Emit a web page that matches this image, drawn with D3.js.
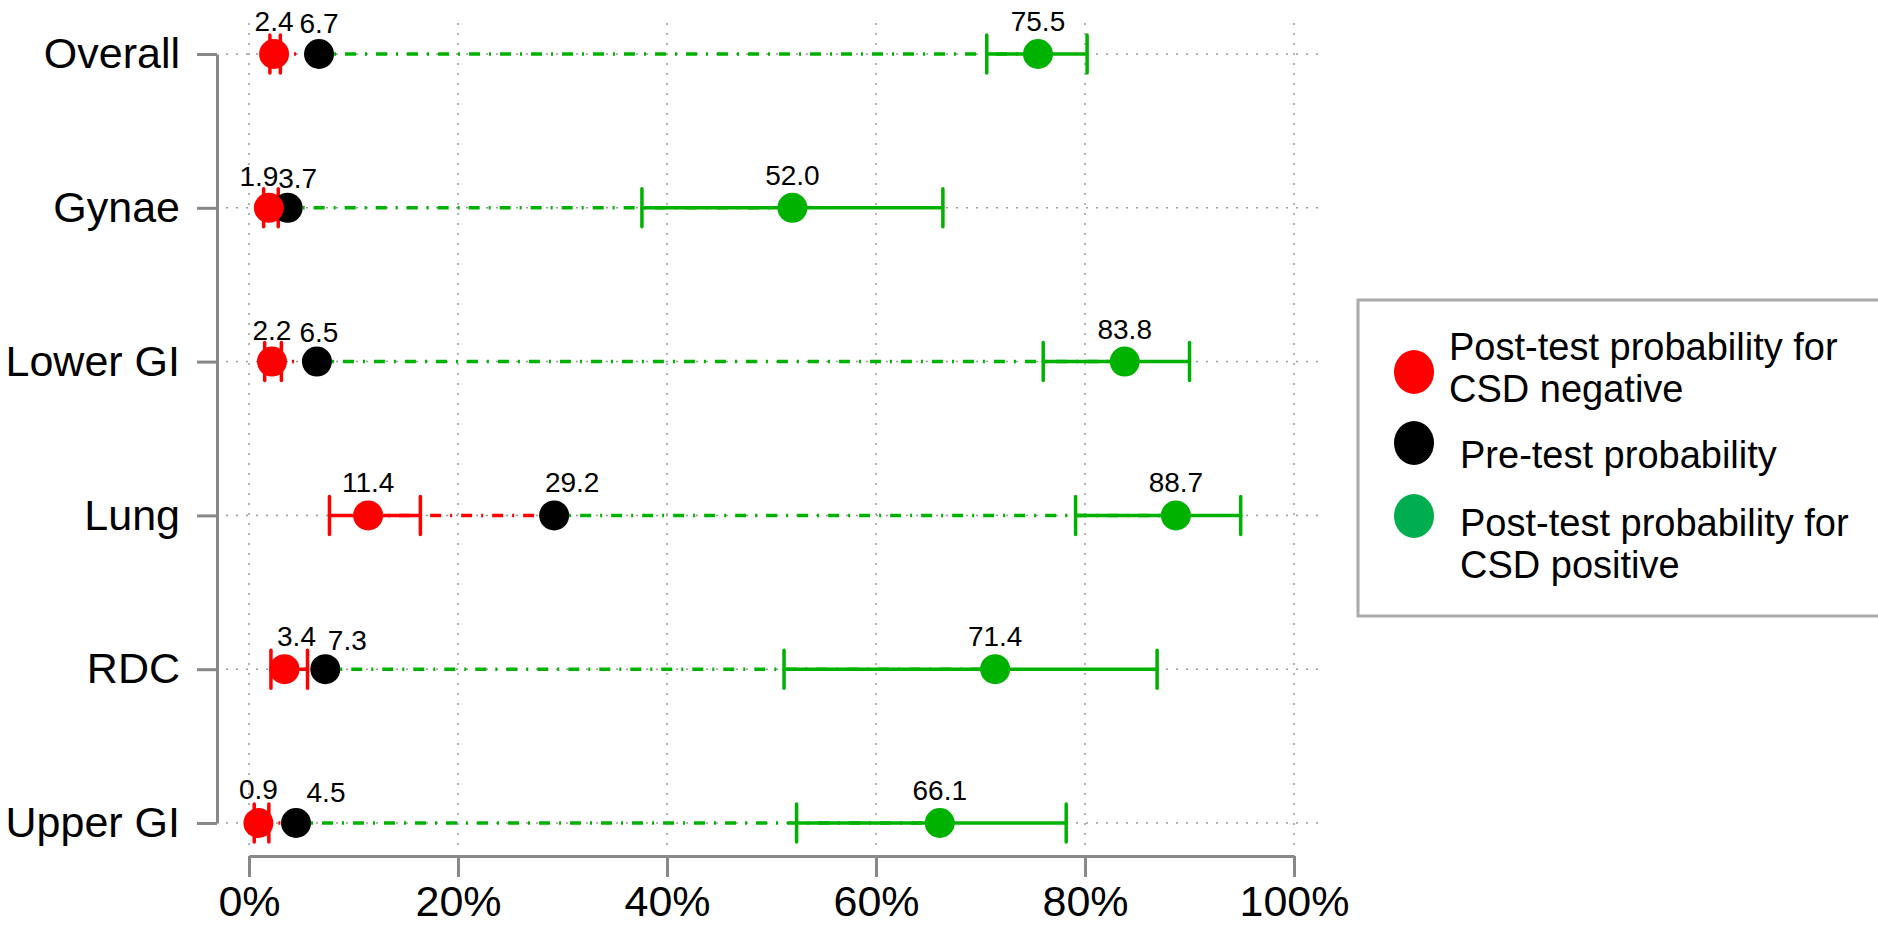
<!DOCTYPE html>
<html>
<head>
<meta charset="utf-8">
<script src="https://cdn.jsdelivr.net/npm/d3@7"></script>
<style>
  html, body { margin: 0; padding: 0; background: #fff; }
  svg { display: block; font-family: "Liberation Sans", Arial, Helvetica, sans-serif; }
</style>
</head>
<body>
<svg id="chart" width="1878" height="927"></svg>
<script>
// ---- data ----
const categories = ["Overall", "Gynae", "Lower GI", "Lung", "RDC", "Upper GI"];
const preTest    = [6.7, 3.7, 6.5, 29.2, 7.3, 4.5];
const postNeg    = [2.4, 1.9, 2.2, 11.4, 3.4, 0.9];
const postNegLo  = [2.0, 1.4, 1.5, 7.7, 2.1, 0.5];
const postNegHi  = [3.0, 2.8, 3.1, 16.4, 5.6, 1.9];
const postPos    = [75.5, 52.0, 83.8, 88.7, 71.4, 66.1];
const postPosLo  = [70.6, 37.6, 76.0, 79.1, 51.2, 52.4];
const postPosHi  = [80.2, 66.4, 90.0, 94.9, 86.9, 78.2];
const xTicks     = [0, 20, 40, 60, 80, 100];
const legendLabels = [
  ["Post-test probability for", "CSD negative"],
  ["Pre-test probability"],
  ["Post-test probability for", "CSD positive"]
];

// label placement nudges (layout only, pixels): [dx, dy above point]
const labelNudge = {
  neg: [[0, 23], [-10, 22], [0, 22], [0, 23], [12, 23], [0, 24]],
  pre: [[0, 21], [10, 20], [2, 20], [18, 23], [22, 19], [30, 21]],
  pos: [[0, 23], [0, 23], [0, 23], [0, 23], [0, 23], [0, 23]]
};

const RED = "#ff0000", BLACK = "#000000", GREEN = "#00b200", LEG_GREEN = "#00ad4f";
const AXIS = "#888888", GRID = "#9a9a9a";

const svg = d3.select("#chart");
const x = d3.scaleLinear().domain([0, 100]).range([249, 1294]);
const y = d3.scalePoint().domain(categories).range([54, 823]);

const rows = categories.map((c, i) => ({
  i, cat: c, pre: preTest[i], neg: postNeg[i], negLo: postNegLo[i], negHi: postNegHi[i],
  pos: postPos[i], posLo: postPosLo[i], posHi: postPosHi[i]
}));

// ---- grid ----
const grid = svg.append("g");
grid.selectAll("line.v").data(xTicks).join("line")
  .attr("x1", d => x(d)).attr("x2", d => x(d))
  .attr("y1", y(categories[0]) - 31).attr("y2", y(categories[categories.length - 1]) + 24)
  .attr("stroke", GRID).attr("stroke-width", 1.5).attr("stroke-dasharray", "2,8");
grid.selectAll("line.h").data(categories).join("line")
  .attr("x1", x(-2.2)).attr("x2", x(102.8))
  .attr("y1", d => y(d)).attr("y2", d => y(d))
  .attr("stroke", GRID).attr("stroke-width", 1.5).attr("stroke-dasharray", "2,8");

// ---- axes ----
const yAxis = svg.append("g").attr("transform", "translate(217,0)")
  .call(d3.axisLeft(y).tickSize(20).tickSizeOuter(0).tickPadding(17));
yAxis.selectAll("path, line").attr("stroke", AXIS).attr("stroke-width", 3);
yAxis.selectAll("text").attr("font-size", 43).attr("fill", "#000")
  .attr("font-family", "Liberation Sans, Arial, sans-serif");

const xAxis = svg.append("g").attr("transform", "translate(0,856)")
  .call(d3.axisBottom(x).tickValues(xTicks).tickFormat(d => d + "%")
    .tickSize(21).tickSizeOuter(0).tickPadding(8));
xAxis.selectAll("path, line").attr("stroke", AXIS).attr("stroke-width", 3);
xAxis.selectAll("text").attr("font-size", 43).attr("fill", "#000")
  .attr("font-family", "Liberation Sans, Arial, sans-serif");

// ---- connecting dash-dot lines ----
const plot = svg.append("g");
plot.selectAll("line.negc").data(rows).join("line")
  .attr("x1", d => x(d.neg)).attr("x2", d => x(d.pre))
  .attr("y1", d => y(d.cat)).attr("y2", d => y(d.cat))
  .attr("stroke", RED).attr("stroke-width", 3.5).attr("stroke-dasharray", "11,9,2,9");
plot.selectAll("line.posc").data(rows).join("line")
  .attr("x1", d => x(d.pre)).attr("x2", d => x(d.pos))
  .attr("y1", d => y(d.cat)).attr("y2", d => y(d.cat))
  .attr("stroke", GREEN).attr("stroke-width", 3.5).attr("stroke-dasharray", "11,9,2,9")
  .attr("stroke-dashoffset", 5);

// ---- CI bars ----
function ciBars(lo, hi, color) {
  const g = plot.append("g").attr("stroke", color).attr("stroke-width", 3.5)
    .attr("stroke-linecap", "round");
  g.selectAll("line.span").data(rows).join("line")
    .attr("x1", d => x(d[lo])).attr("x2", d => x(d[hi]))
    .attr("y1", d => y(d.cat)).attr("y2", d => y(d.cat));
  g.selectAll("line.capl").data(rows).join("line")
    .attr("x1", d => x(d[lo])).attr("x2", d => x(d[lo]))
    .attr("y1", d => y(d.cat) - 19).attr("y2", d => y(d.cat) + 19);
  g.selectAll("line.caph").data(rows).join("line")
    .attr("x1", d => x(d[hi])).attr("x2", d => x(d[hi]))
    .attr("y1", d => y(d.cat) - 19).attr("y2", d => y(d.cat) + 19);
}
ciBars("negLo", "negHi", RED);
ciBars("posLo", "posHi", GREEN);

// ---- points ----
function points(key, color) {
  plot.append("g").selectAll("circle").data(rows).join("circle")
    .attr("cx", d => x(d[key])).attr("cy", d => y(d.cat)).attr("r", 15)
    .attr("fill", color);
  plot.append("g").selectAll("text").data(rows).join("text")
    .attr("x", d => x(d[key]) + labelNudge[key][d.i][0])
    .attr("y", d => y(d.cat) - labelNudge[key][d.i][1])
    .attr("text-anchor", "middle").attr("font-size", 28).attr("fill", "#000")
    .text(d => d[key].toFixed(1));
}
points("pre", BLACK);
points("neg", RED);
points("pos", GREEN);

// ---- legend ----
const leg = svg.append("g");
leg.append("rect").attr("x", 1358).attr("y", 300).attr("width", 540).attr("height", 316)
  .attr("fill", "#fff").attr("stroke", "#aaaaaa").attr("stroke-width", 3);
const legColors = [RED, BLACK, LEG_GREEN];
const legCy = [372, 443, 516];
const legTx = [1449, 1460, 1460];
const legTy = [360, 468, 536];
legendLabels.forEach((lines, i) => {
  leg.append("ellipse").attr("cx", 1414).attr("cy", legCy[i]).attr("rx", 20).attr("ry", 22)
    .attr("fill", legColors[i]);
  const t = leg.append("text").attr("x", legTx[i]).attr("y", legTy[i])
    .attr("font-size", 38).attr("fill", "#000");
  lines.forEach((ln, j) => {
    t.append("tspan").attr("x", legTx[i]).attr("dy", j === 0 ? 0 : 42).text(ln);
  });
});
</script>
</body>
</html>
